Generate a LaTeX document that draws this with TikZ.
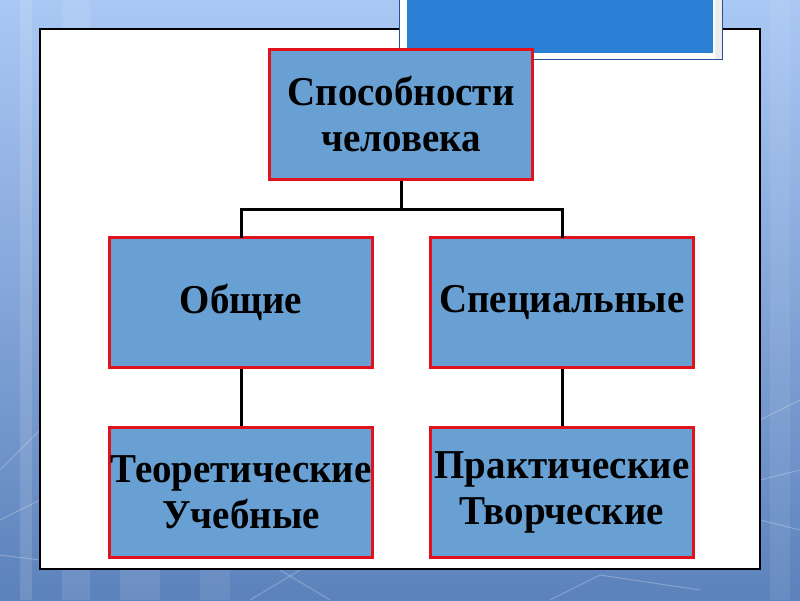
\documentclass[tikz,border=0pt]{standalone}
\usepackage{fontspec}
\setmainfont{Liberation Serif}
\usetikzlibrary{positioning,calc}
\definecolor{boxblue}{RGB}{104,160,212}
\definecolor{boxred}{RGB}{226,18,28}
\definecolor{topblue}{RGB}{42,126,212}
\definecolor{bgtop}{RGB}{170,200,244}
\definecolor{bgbot}{RGB}{92,130,188}
\definecolor{edgeblue}{RGB}{40,80,150}
\newcommand{\sqz}[1]{\scalebox{0.95}[1]{#1}}
\tikzset{
  chartbox/.style={draw=boxred, fill=boxblue, line width=3pt, minimum width=263pt, minimum height=130pt,
    align=center, inner sep=0pt, font=\bfseries\fontsize{41}{46}\selectfont},
  link/.style={draw=black, line width=3pt},
  faint/.style={draw=white, opacity=0.25, line width=1pt}
}
\begin{document}
\begin{tikzpicture}[x=1pt,y=-1pt]
\useasboundingbox (0,0) rectangle (800,600);
% background
\shade[top color=bgtop, bottom color=bgbot] (0,0) rectangle (800,600);
\fill[white, opacity=0.12] (20,0) rectangle (32,600);
\fill[white, opacity=0.10] (62,0) rectangle (90,600);
\fill[white, opacity=0.08] (770,0) rectangle (790,600);
\fill[white, opacity=0.10] (120,570) rectangle (160,600);
\fill[white, opacity=0.08] (200,570) rectangle (230,600);
\draw[faint] (0,470) -- (40,430);
\draw[faint] (0,520) -- (40,500);
\draw[faint] (0,555) -- (40,560);
\draw[faint] (760,420) -- (800,400);
\draw[faint] (760,480) -- (800,470);
\draw[faint] (760,520) -- (800,530);
\draw[faint] (250,600) -- (300,570);
\draw[faint] (280,570) -- (330,600);
\draw[faint] (550,600) -- (600,575);
\draw[faint] (600,575) -- (700,590);
% white panel
\draw[fill=white, line width=1.2pt] (40,29) rectangle (760,569);
% top blue title rectangle
\draw[draw=edgeblue, fill=white, line width=0.6pt] (399,-2) rectangle (722,59);
\fill[gray!15] (715,-2) rectangle (721.5,58.5);
\fill[topblue] (407,0) rectangle (713,53);
% nodes
\node[chartbox] (top) at (401,114.5) {\sqz{Способности}\\\sqz{человека}};
\node[chartbox] (gen) at (241,302.5) {\sqz{Общие}};
\node[chartbox] (spec) at (562,302.5) {\sqz{Специальные}};
\node[chartbox] (theo) at (241,492) {\sqz{Теоретические}\\\sqz{Учебные}};
\node[chartbox] (prac) at (562,492) {\sqz{Практические}\\\sqz{Творческие}};
% connectors
\coordinate (j) at ($(top.south)+(0,28)$);
\draw[link] (top.south) -- (j);
\draw[link, line cap=rect] (gen.north) |- (j) -| (spec.north);
\draw[link] (gen.south) -- (theo.north);
\draw[link] (spec.south) -- (prac.north);
\end{tikzpicture}
\end{document}
